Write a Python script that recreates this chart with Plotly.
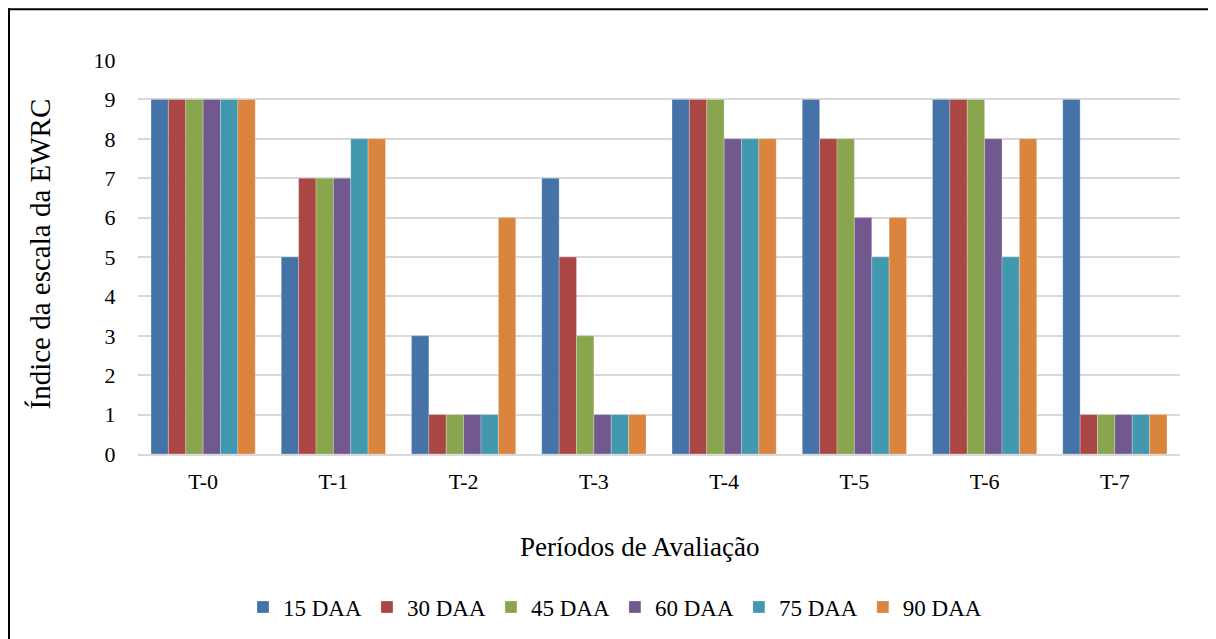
import plotly.graph_objects as go

categories = ["T-0", "T-1", "T-2", "T-3", "T-4", "T-5", "T-6", "T-7"]
series_names = ["15 DAA", "30 DAA", "45 DAA", "60 DAA", "75 DAA", "90 DAA"]
v15 = [9, 5, 3, 7, 9, 9, 9, 9]
v30 = [9, 7, 1, 5, 9, 8, 9, 1]
v45 = [9, 7, 1, 3, 9, 8, 9, 1]
v60 = [9, 7, 1, 1, 8, 6, 8, 1]
v75 = [9, 8, 1, 1, 8, 5, 5, 1]
v90 = [9, 8, 6, 1, 8, 6, 8, 1]
colors = ["#4572A7", "#AA4643", "#89A54E", "#71588F", "#4198AF", "#DB843D"]

font = "Liberation Serif"
fig = go.Figure()
for name, vals, c in zip(series_names, [v15, v30, v45, v60, v75, v90], colors):
    fig.add_trace(go.Bar(x=categories, y=vals, name=name,
                         marker=dict(color=c, line=dict(color="rgba(255,255,255,0.5)", width=0.5))))

# the page body has an 8px margin; figure origin sits at screen (8, 8)
OFF = 8
W, H = 1216 - OFF, 639 - OFF
L, T = 138 - OFF, 60 - OFF
R = W - (1180 - OFF)
B = H - (455 - OFF)
pw, ph = W - L - R, H - T - B

def px(xs):
    return (xs - OFF - L) / pw

def py(ys):
    return (H - B - (ys - OFF)) / ph

fig.update_layout(
    width=W, height=H,
    margin=dict(l=L, r=R, t=T, b=B),
    paper_bgcolor="white", plot_bgcolor="white",
    barmode="group", bargap=0.2, bargroupgap=0,
    font=dict(family=font, size=22, color="black"),
    showlegend=True,
    legend=dict(orientation="h", x=px(615), xanchor="center", y=py(607), yanchor="middle",
                font=dict(size=23, family=font), itemwidth=30, traceorder="normal"),
    xaxis=dict(showgrid=False, showline=True, linecolor="#d9d9d9", linewidth=2,
               ticks="outside", ticklen=7, tickcolor="rgba(0,0,0,0)",
               tickfont=dict(size=22, family=font)),
    yaxis=dict(range=[0, 10], dtick=1, showgrid=True, gridcolor="#d9d9d9", gridwidth=1.5,
               zeroline=False, showline=False,
               ticks="outside", ticklen=17, tickcolor="rgba(0,0,0,0)",
               tickfont=dict(size=22, family=font)),
    annotations=[
        dict(text="Períodos de Avaliação", xref="paper", yref="paper",
             x=px(639), y=py(548), xanchor="center", yanchor="middle", showarrow=False,
             font=dict(size=27, family=font)),
        dict(text="Índice da escala da EWRC", xref="paper", yref="paper",
             x=px(40), y=py(255), xanchor="center", yanchor="middle", showarrow=False,
             textangle=-90, font=dict(size=29, family=font)),
    ],
    shapes=[
        dict(type="line", xref="paper", yref="paper", x0=px(9), x1=px(9), y0=py(8), y1=py(650),
             line=dict(color="black", width=2)),
        dict(type="line", xref="paper", yref="paper", x0=px(8), x1=px(1213), y0=py(9), y1=py(9),
             line=dict(color="black", width=2)),
        dict(type="line", xref="paper", yref="paper", x0=px(1213), x1=px(1213), y0=py(8), y1=py(650),
             line=dict(color="#bbbbbb", width=1)),
    ],
)

fig.write_html("out.html")
